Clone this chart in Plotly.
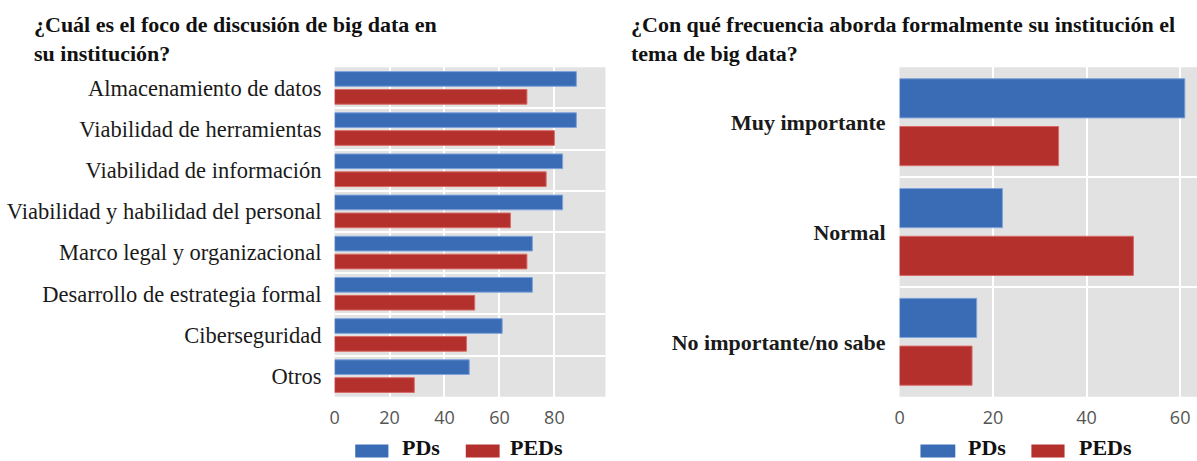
import plotly.graph_objects as go
from plotly.subplots import make_subplots

# Left panel: discussion focus
focus_categories = [
    "Almacenamiento de datos",
    "Viabilidad de herramientas",
    "Viabilidad de información",
    "Viabilidad y habilidad del personal",
    "Marco legal y organizacional",
    "Desarrollo de estrategia formal",
    "Ciberseguridad",
    "Otros",
]
focus_pds = [88, 88, 83, 83, 72, 72, 61, 49]
focus_peds = [70, 80, 77, 64, 70, 51, 48, 29]

# Right panel: how often the topic is addressed
freq_categories = ["Muy importante", "Normal", "No importante/no sabe"]
freq_pds = [61, 22, 16.5]
freq_peds = [34, 50, 15.5]

x_ticks_left = [0, 20, 40, 60, 80]
x_ticks_right = [0, 20, 40, 60]

series_names = ["PDs", "PEDs"]
title_left = "¿Cuál es el foco de discusión de big data en<br>su institución?"
title_right = "¿Con qué frecuencia aborda formalmente su institución el<br>tema de big data?"

BLUE = "#3A6CB5"
RED = "#B3302D"
BLUE_EDGE = "#7FA3DA"
RED_EDGE = "#D86A66"
PANEL_BG = "#E2E2E2"
SERIF = "Liberation Serif"
SANS = "Open Sans"

W, H = 1197, 461

fig = make_subplots(rows=1, cols=2)

def add_panel(col, cats, pds, peds):
    pos = list(range(len(cats)))
    fig.add_trace(go.Bar(y=pos, x=pds, orientation="h", name=series_names[0],
                         marker=dict(color=BLUE, line=dict(color=BLUE_EDGE, width=1)),
                         showlegend=False), row=1, col=col)
    fig.add_trace(go.Bar(y=pos, x=peds, orientation="h", name=series_names[1],
                         marker=dict(color=RED, line=dict(color=RED_EDGE, width=1)),
                         showlegend=False), row=1, col=col)

add_panel(1, focus_categories, focus_pds, focus_peds)
add_panel(2, freq_categories, freq_pds, freq_peds)

y_dom = [1 - 396.7 / H, 1 - 67.3 / H]

fig.update_layout(
    width=W, height=H,
    margin=dict(l=0, r=0, t=0, b=0),
    paper_bgcolor="white",
    plot_bgcolor=PANEL_BG,
    barmode="group",
    bargap=0.13,
    bargroupgap=0.18,
    xaxis=dict(domain=[331 / W, 603 / W], range=[0, 98.6],
               tickmode="array", tickvals=x_ticks_left,
               showgrid=True, gridcolor="white", gridwidth=2,
               zeroline=False, showline=False, ticks="",
               tickfont=dict(family=SANS, size=18, color="#555555"),
               ticklabelstandoff=8),
    xaxis2=dict(domain=[898.3 / W, 1.0], range=[0, 63.6],
                tickmode="array", tickvals=x_ticks_right,
                showgrid=True, gridcolor="white", gridwidth=2,
                zeroline=False, showline=False, ticks="",
                tickfont=dict(family=SANS, size=18, color="#555555"),
                ticklabelstandoff=8),
    yaxis=dict(domain=y_dom, range=[len(focus_categories) - 0.5, -0.5],
               tickmode="array", tickvals=list(range(len(focus_categories))),
               ticktext=focus_categories, showgrid=False, zeroline=False,
               ticks="", ticklabelstandoff=12,
               tickfont=dict(family=SERIF, size=22.5, color="#1a1a1a"),
               minor=dict(tickvals=[i + 0.5 for i in range(len(focus_categories) - 1)],
                          showgrid=True, gridcolor="white", gridwidth=2, ticks="")),
    yaxis2=dict(domain=y_dom, range=[len(freq_categories) - 0.5, -0.5],
                tickmode="array", tickvals=list(range(len(freq_categories))),
                ticktext=freq_categories, showgrid=False, zeroline=False,
                ticks="", ticklabelstandoff=13,
                tickfont=dict(family=SERIF, size=22, color="#1a1a1a", weight="bold"),
                minor=dict(tickvals=[i + 0.5 for i in range(len(freq_categories) - 1)],
                           showgrid=True, gridcolor="white", gridwidth=2, ticks="")),
)

# Panel titles
for x_left, text in [(27, title_left), (627, title_right)]:
    fig.add_annotation(x=x_left / W, y=1 - 10 / H, xref="paper", yref="paper",
                       xanchor="left", yanchor="top", align="left", showarrow=False,
                       text=text, font=dict(family=SERIF, size=22, color="#111111", weight="bold"))

# Custom legends below each panel (wide colour swatches)
legend_rows = [
    [(351.7, 385.0, BLUE, 398, series_names[0]), (462.7, 496.7, RED, 506, series_names[1])],
    [(919.3, 954.3, BLUE, 966, series_names[0]), (1030.7, 1064.0, RED, 1078, series_names[1])],
]
sw_top, sw_bot = 444.5, 457.5
for row in legend_rows:
    for x0, x1, color, tx, label in row:
        fig.add_shape(type="rect", xref="paper", yref="paper",
                      x0=x0 / W, x1=x1 / W, y0=1 - sw_bot / H, y1=1 - sw_top / H,
                      fillcolor=color, line=dict(width=0))
        fig.add_annotation(x=tx / W, y=0, xref="paper", yref="paper",
                           xanchor="left", yanchor="bottom", showarrow=False,
                           borderpad=0,
                           text=label, font=dict(family=SERIF, size=22, color="#111111", weight="bold"))

fig.write_html("out.html")
